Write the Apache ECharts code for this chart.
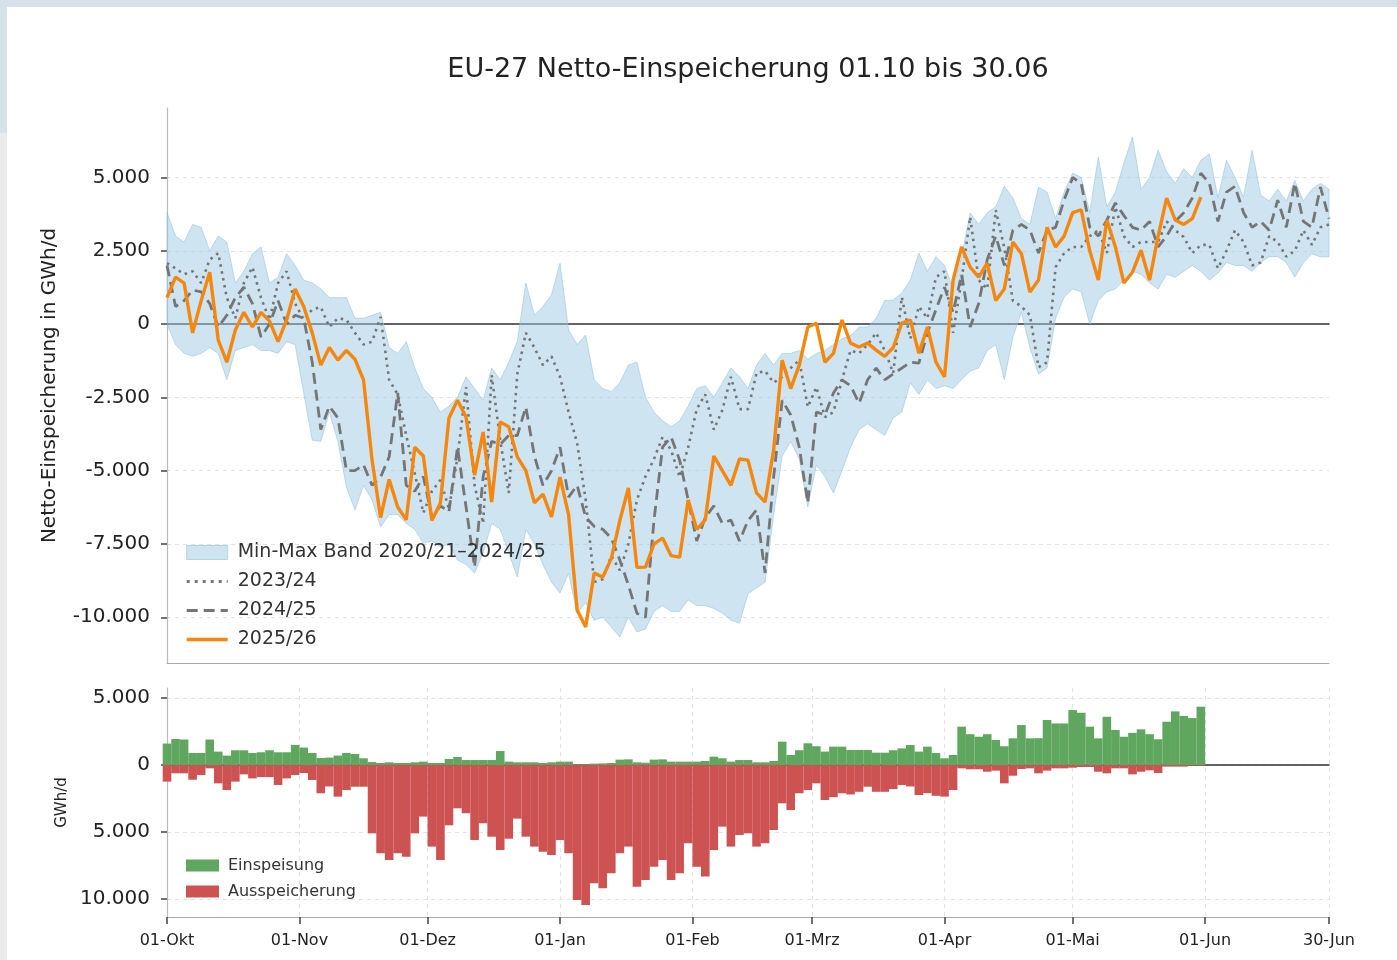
<!DOCTYPE html>
<html>
<head>
<meta charset="utf-8">
<title>EU-27 Netto-Einspeicherung</title>
<script src="https://cdn.jsdelivr.net/npm/echarts@6/dist/echarts.min.js"></script>
<style>
  html, body { margin: 0; padding: 0; background: #fff; }
  #chart { width: 1397px; height: 960px; }
</style>
</head>
<body>
<div id="chart"></div>
<script>
// Tage ab 01.10., Werte für jeden zweiten Tag
const step = 2;
const monthTicks = [0, 31, 61, 92, 123, 151, 182, 212, 243, 272];
const monthLabels = ["01-Okt", "01-Nov", "01-Dez", "01-Jan", "01-Feb", "01-Mrz", "01-Apr", "01-Mai", "01-Jun", "30-Jun"];
const upperTicks = [5000, 2500, 0, -2500, -5000, -7500, -10000];
const lowerTicks = [5000, 0, -5000, -10000];

// Min-Max Band 2020/21–2024/25
const bandMax = [
  3800, 3000, 2800, 3400, 3300, 2500, 3000, 2800, 1400, 1800,
  2400, 2630, 1400, 1600, 2400, 2000, 1500, 1400, 1200, 900,
  900, 900, 200, 200, 300, 400, -800, -1000, -600, -1500,
  -2200, -2500, -3000, -2800, -2500, -1800, -2200, -2600, -1500, -1900,
  -1300, -600, 1400, 300, 600, 1000, 2080, -200, -700, -375,
  -1900, -2200, -2300, -2000, -1400, -1300, -2500, -3000, -3300, -3500,
  -3300, -2800, -2200, -2100, -2500, -2000, -1500, -1800, -2200, -1400,
  -1000, -1400, -1000, -1000, -900, -1200, -1000, -900, -700, -500,
  -400, -100, -100, 200, 800, 820, 1060, 1500, 2420, 1800,
  2300, 2000, 1200, 2300, 3790, 3400, 3800, 4000, 4700, 4300,
  3600, 3400, 4670, 4500, 3600, 4500, 5150, 5000, 3800, 5700,
  4000, 4500, 5500, 6380, 4600, 5000, 5930, 5200, 4800, 5300,
  5000, 5590, 5800, 4300, 5590, 5000, 4330, 5930, 4400, 4200,
  4600, 4200, 4900, 4200, 4600, 4800, 4600
];
const bandMin = [
  0, -700, -1000, -1100, -1000, -800, -1000, -1900, -900, -800,
  -700, -900, -900, -1000, -600, -700, -2350, -3960, -4000, -3000,
  -4000, -5560, -6340, -5500, -6000, -6920, -6500, -6500, -6800, -7000,
  -7470, -7400, -7600, -7500, -8050, -8200, -8490, -7800, -6800, -7000,
  -7800, -8630, -7000, -7500, -8200, -8800, -9170, -8500, -9860, -9500,
  -10100, -10000, -10330, -10670, -10000, -10500, -10400, -9800, -9600, -9800,
  -9800, -9400, -9600, -9600, -9700, -9860, -10100, -10200, -9200, -9000,
  -8800, -6500, -4500, -4000, -4600, -6240, -4800, -5200, -5760, -5000,
  -4200, -3600, -3400, -3600, -3800, -3200, -3000, -2000, -2400, -1900,
  -2200, -2100, -2200, -1900, -1600, -1500, -900, -700, -1900, -440,
  400, -800, -1700, -1500, 200, 920, 1200, 1100, 0, 800,
  1100, 1200, 1500, 1800, 1700, 1400, 1200, 1700, 1600, 1800,
  2000, 1800, 1500, 1740, 2100, 2000, 2000, 1800, 2100, 2300,
  2300, 2100, 1600, 2100, 2400, 2290, 2300
];

const y2324 = [
  2080, 1900, 1700, 1800, 1400, 2200, 2420, 900, 200, 1400,
  1940, 900, 140, 1400, 1800, 700, 150, 500, 580, -100,
  200, 150, -300, -700, -600, 240, -1900, -2400, -3800, -5100,
  -6440, -5700, -5320, -6300, -4530, -2150, -5500, -6800, -1740, -3960,
  -5760, -1700, -300, -800, -1400, -1100, -1800, -3000, -4060, -6000,
  -8800, -8700, -7900, -8400, -7500, -6000, -5200, -4600, -3850, -4300,
  -5220, -4200, -2900, -2400, -3600, -2930, -1800, -2900, -2900, -1670,
  -1600, -2000, -1800, -1500, -1230, -2830, -2150, -3170, -3000, -1900,
  -900, -1000, -700, -300, -900, -1670, 920, -500, 600, 200,
  1600, 1800, -300, 1500, 3650, 1500, 1200, 3890, 2600, 800,
  600, 300, -1470, -1300, 1940, 2420, 2630, 2630, 3000, 3200,
  2420, 3990, 3000, 2630, 2800, 2800, 2800, 3500, 3200, 2970,
  2420, 2700, 2700, 1900, 2500, 3200, 2800, 2000, 2100, 3000,
  2800, 2300, 2500, 3200, 2700, 3300, 3400
];
const y2425 = [
  2000, 600, 800, 1160, 1100, 700, -100, 300, 900, 1260,
  700, -440, 0, 800, 0, 300, 200, -1300, -3600, -2800,
  -3200, -5000, -5000, -4800, -5500, -5220, -4530, -2350, -5500, -5700,
  -5200, -6580, -6200, -6400, -4200, -6240, -8290, -5200, -4000, -4100,
  -3800, -3800, -2830, -4500, -5500, -5000, -4200, -5900, -5500, -6580,
  -6900, -7000, -7300, -8050, -8900, -9860, -10000, -6680, -4200, -3850,
  -4640, -6000, -7400, -6600, -6200, -6800, -6680, -7400, -6700, -6340,
  -8490, -5220, -2600, -3100, -4200, -6100, -3000, -3100, -2350, -1900,
  -2100, -2700, -1900, -1500, -1900, -1700, -1500, -1300, -1330, -300,
  500, 1260, 400, 1700, -100, 700, 2200, 3000, 2000, 3200,
  3400, 3200, 2420, 3200, 3300, 4230, 5000, 4800, 3300, 3000,
  3550, 4130, 3700, 3300, 3200, 3500, 2630, 3000, 3500, 3800,
  4300, 5150, 4800, 3500, 4500, 4700, 3800, 3300, 3500, 3200,
  4230, 3300, 4810, 3500, 3300, 4670, 3600
];
const y2526 = [
  900, 1600, 1400, -300, 800, 1770, -545, -1300, -200, 400,
  -100, 400, 100, -600, 140, 1200, 600, -300, -1400, -800,
  -1230, -900, -1200, -1900, -4640, -6600, -5300, -6240, -6680, -4200,
  -4500, -6700, -6100, -3200, -2600, -3170, -5150, -3680, -6070, -3340,
  -3500, -4530, -5000, -6100, -5800, -6580, -5220, -6500, -9750, -10330,
  -8490, -8630, -8000, -6700, -5590, -8300, -8290, -7500, -7300, -7900,
  -7950, -6000, -7000, -6680, -4500, -5000, -5500, -4600, -4640, -5760,
  -6070, -4300, -1230, -2200, -1400, -100, 30, -1300, -1000, 140,
  -650, -780, -650, -890, -1100, -800, 30, 140, -1000, -100,
  -1300, -1800, 1500, 2630, 1940, 1600, 2080, 800, 1200, 2800,
  2400, 1090, 1500, 3300, 2630, 3000, 3800, 3900, 2500, 1500,
  3550, 2630, 1400, 1770, 2520, 1500, 3000, 4300, 3550, 3400,
  3600, 4330
];

// Tagesmengen 2025/26 in GWh/d
const einspeisung = [
  1600, 1940, 1900, 900, 900, 1900, 1000, 700, 1100, 1100,
  900, 950, 1100, 950, 950, 1500, 1300, 900, 520, 550,
  700, 900, 820, 500, 220, 150, 200, 150, 150, 200,
  250, 150, 150, 450, 600, 370, 370, 370, 370, 1040,
  250, 200, 200, 200, 150, 200, 250, 250, 50, 50,
  100, 120, 150, 400, 420, 200, 170, 400, 420, 250,
  250, 250, 250, 300, 620, 500, 250, 370, 370, 200,
  200, 300, 1740, 750, 1100, 1620, 1400, 1000, 1370, 1370,
  1120, 1120, 1120, 920, 920, 1100, 1240, 1490, 1000, 1370,
  900, 500, 750, 2860, 2300, 2110, 2300, 1870, 1400, 1990,
  2980, 1990, 2000, 3360, 3100, 3100, 4100, 3900, 2860, 1990,
  3600, 2610, 2110, 2400, 2660, 2300, 1920, 3230, 4000, 3660,
  3500, 4350
];
const ausspeicherung = [
  -1240, -620, -620, -1100, -750, -250, -1370, -1870, -1240, -700,
  -1000, -900, -900, -1490, -1000, -750, -600, -1120, -2110, -1600,
  -2360, -1870, -1620, -1620, -5100, -6590, -7090, -6590, -6840, -5100,
  -3850, -6090, -7090, -4500, -3230, -3600, -5600, -4350, -5350, -6340,
  -5500, -4000, -5350, -6090, -6470, -6720, -5600, -6590, -10070, -10450,
  -8830, -9200, -8080, -6590, -6090, -9080, -8580, -7590, -7090, -8580,
  -8080, -5840, -7590, -8330, -6340, -4600, -6090, -5220, -5100, -6090,
  -5840, -4850, -2860, -3360, -2110, -1870, -1370, -2610, -2400, -2110,
  -2200, -2000, -1620, -2000, -2000, -1800, -1490, -1600, -2240, -2100,
  -2300, -2360, -1870, -250, -320, -320, -500, -420, -1370, -800,
  -300, -250, -620, -420, -250, -250, -200, -150, -150, -500,
  -620, -250, -250, -700, -500, -400, -600, -120, -120, -120,
  -60, -60
];

const bandName = "Min-Max Band 2020/21\u20132024/25";
const fontName = "DejaVu Sans";

function fmtDe(v) {
  let s = String(Math.abs(v)).replace(/\B(?=(\d{3})+(?!\d))/g, ".");
  return (v < 0 ? "-" : "") + s;
}
function pairs(arr) {
  return arr.map((v, i) => [i * step, v]);
}

let chartDom = document.getElementById("chart");
let myChart = echarts.init(chartDom, null, { renderer: "canvas" });
let option;

option = {
  animation: false,
  backgroundColor: "#fff",
  textStyle: { fontFamily: fontName },
  graphic: [
    // Rahmen vom Screenshot
    { type: "rect", shape: { x: 0, y: 0, width: 1397, height: 7 }, style: { fill: "#d6e1ea" }, silent: true },
    { type: "rect", shape: { x: 0, y: 0, width: 7, height: 133 }, style: { fill: "#d6e1ea" }, silent: true },
    { type: "rect", shape: { x: 0, y: 133, width: 7, height: 827 }, style: { fill: "#ebebeb" }, silent: true },
    {
      type: "text",
      x: 748,
      y: 70,
      style: {
        text: "EU-27 Netto-Einspeicherung 01.10 bis 30.06",
        font: "27px 'DejaVu Sans'",
        fill: "#222",
        textAlign: "center",
        textVerticalAlign: "middle",
      },
    },
  ],
  grid: [
    { left: 167, width: 1162, top: 108, height: 555 },
    { left: 167, width: 1162, top: 688, height: 229 },
  ],
  legend: [
    {
      data: [
        { name: bandName, icon: "rect", itemStyle: { color: "rgba(158,202,225,0.5)", borderColor: "#b3d4e6", borderWidth: 1 } },
        { name: "2023/24", itemStyle: { opacity: 0 }, lineStyle: { width: 3, type: [3, 5] } },
        { name: "2024/25", itemStyle: { opacity: 0 }, lineStyle: { width: 3, type: [11, 6] } },
        { name: "2025/26", itemStyle: { opacity: 0 }, lineStyle: { width: 3.4 } },
      ],
      orient: "vertical",
      left: 180,
      top: 538,
      itemWidth: 41,
      itemHeight: 14,
      itemGap: 10,
      textStyle: { fontSize: 19, color: "#333", lineHeight: 19, padding: [0, 0, 0, 5] },
      selectedMode: false,
    },
    {
      data: [
        { name: "Einspeisung", icon: "rect" },
        { name: "Ausspeicherung", icon: "rect" },
      ],
      orient: "vertical",
      left: 181,
      top: 852,
      itemWidth: 33,
      itemHeight: 12,
      itemGap: 9,
      textStyle: { fontSize: 16, color: "#333", lineHeight: 17, padding: [0, 0, 0, 4] },
      selectedMode: false,
    },
  ],
  xAxis: [
    {
      // untere Achse oberes Diagramm
      type: "value",
      gridIndex: 0,
      min: 0,
      max: 272,
      axisLine: { onZero: false, lineStyle: { color: "#aaa", width: 1.2 } },
      axisTick: { show: false },
      axisLabel: { show: false },
      splitLine: { show: false },
    },
    {
      // Nulllinie oberes Diagramm
      type: "value",
      gridIndex: 0,
      position: "bottom",
      min: 0,
      max: 272,
      axisLine: { onZero: true, lineStyle: { color: "#333", width: 1.5 } },
      axisTick: { show: false },
      axisLabel: { show: false },
      splitLine: { show: false },
    },
    {
      type: "value",
      gridIndex: 1,
      min: 0,
      max: 272,
      axisLine: { onZero: false, lineStyle: { color: "#aaa", width: 1.2 } },
      axisTick: { show: true, customValues: monthTicks, length: 7, lineStyle: { color: "#444", width: 1.5 } },
      axisLabel: {
        customValues: monthTicks,
        margin: 16,
        fontSize: 16,
        color: "#222",
        formatter: function (value) {
          return monthLabels[monthTicks.indexOf(value)];
        },
      },
      splitLine: { show: true, lineStyle: { color: "#e2e2e2", type: [4, 4] } },
    },
    {
      // Nulllinie unteres Diagramm
      type: "value",
      gridIndex: 1,
      position: "bottom",
      min: 0,
      max: 272,
      axisLine: { onZero: true, lineStyle: { color: "#333", width: 1.5 } },
      axisTick: { show: false },
      axisLabel: { show: false },
      splitLine: { show: false },
    },
  ],
  yAxis: [
    {
      type: "value",
      gridIndex: 0,
      min: -11560,
      max: 7370,
      name: "Netto-Einspeicherung in GWh/d",
      nameLocation: "middle",
      nameGap: 107,
      nameTextStyle: { fontSize: 20, color: "#222" },
      axisLine: { show: true, lineStyle: { color: "#bbb", width: 1.2 } },
      axisTick: { show: true, customValues: upperTicks, length: 6, lineStyle: { color: "#444", width: 1.5 } },
      axisLabel: {
        customValues: upperTicks,
        margin: 17,
        fontSize: 20,
        color: "#222",
        formatter: function (value) {
          return fmtDe(value);
        },
      },
      splitLine: { show: true, lineStyle: { color: "#e2e2e2", type: [4, 4] } },
    },
    {
      type: "value",
      gridIndex: 1,
      min: -11343,
      max: 5746,
      name: "GWh/d",
      nameLocation: "middle",
      nameGap: 97,
      nameTextStyle: { fontSize: 15, color: "#222" },
      axisLine: { show: true, lineStyle: { color: "#bbb", width: 1.2 } },
      axisTick: { show: true, customValues: lowerTicks, length: 6, lineStyle: { color: "#444", width: 1.5 } },
      axisLabel: {
        customValues: lowerTicks,
        margin: 17,
        fontSize: 20,
        color: "#222",
        formatter: function (value) {
          return fmtDe(Math.abs(value));
        },
      },
      splitLine: { show: true, lineStyle: { color: "#e2e2e2", type: [4, 4] } },
    },
  ],
  series: [
    {
      name: bandName,
      type: "custom",
      xAxisIndex: 0,
      yAxisIndex: 0,
      data: [[0, 0]],
      z: 1,
      silent: true,
      itemStyle: { color: "rgba(158,202,225,0.5)" },
      renderItem: function (params, api) {
        let pts = [];
        for (let i = 0; i < bandMax.length; i++) {
          pts.push(api.coord([i * step, bandMax[i]]));
        }
        for (let i = bandMin.length - 1; i >= 0; i--) {
          pts.push(api.coord([i * step, bandMin[i]]));
        }
        return {
          type: "polygon",
          shape: { points: pts },
          style: { fill: "rgba(158,202,225,0.5)", stroke: "rgba(150,198,224,0.6)", lineWidth: 1 },
        };
      },
    },
    {
      name: "2023/24",
      type: "line",
      xAxisIndex: 0,
      yAxisIndex: 0,
      data: pairs(y2324),
      symbol: "none",
      z: 3,
      itemStyle: { color: "#757575" },
      lineStyle: { color: "#757575", width: 2.6, type: [2.5, 4.5] },
    },
    {
      name: "2024/25",
      type: "line",
      xAxisIndex: 0,
      yAxisIndex: 0,
      data: pairs(y2425),
      symbol: "none",
      z: 3,
      itemStyle: { color: "#757575" },
      lineStyle: { color: "#757575", width: 2.8, type: [11, 6] },
    },
    {
      name: "2025/26",
      type: "line",
      xAxisIndex: 0,
      yAxisIndex: 0,
      data: pairs(y2526),
      symbol: "none",
      z: 4,
      itemStyle: { color: "#f5870f" },
      lineStyle: { color: "#f5870f", width: 3.4 },
    },
    {
      name: "Einspeisung",
      type: "bar",
      xAxisIndex: 2,
      yAxisIndex: 1,
      data: pairs(einspeisung),
      barWidth: 8.6,
      barGap: "-100%",
      itemStyle: { color: "#5fa65f" },
    },
    {
      name: "Ausspeicherung",
      type: "bar",
      xAxisIndex: 2,
      yAxisIndex: 1,
      data: pairs(ausspeicherung),
      barWidth: 8.6,
      barGap: "-100%",
      itemStyle: { color: "#cd5252" },
    },
  ],
};

option && myChart.setOption(option);
</script>
</body>
</html>
